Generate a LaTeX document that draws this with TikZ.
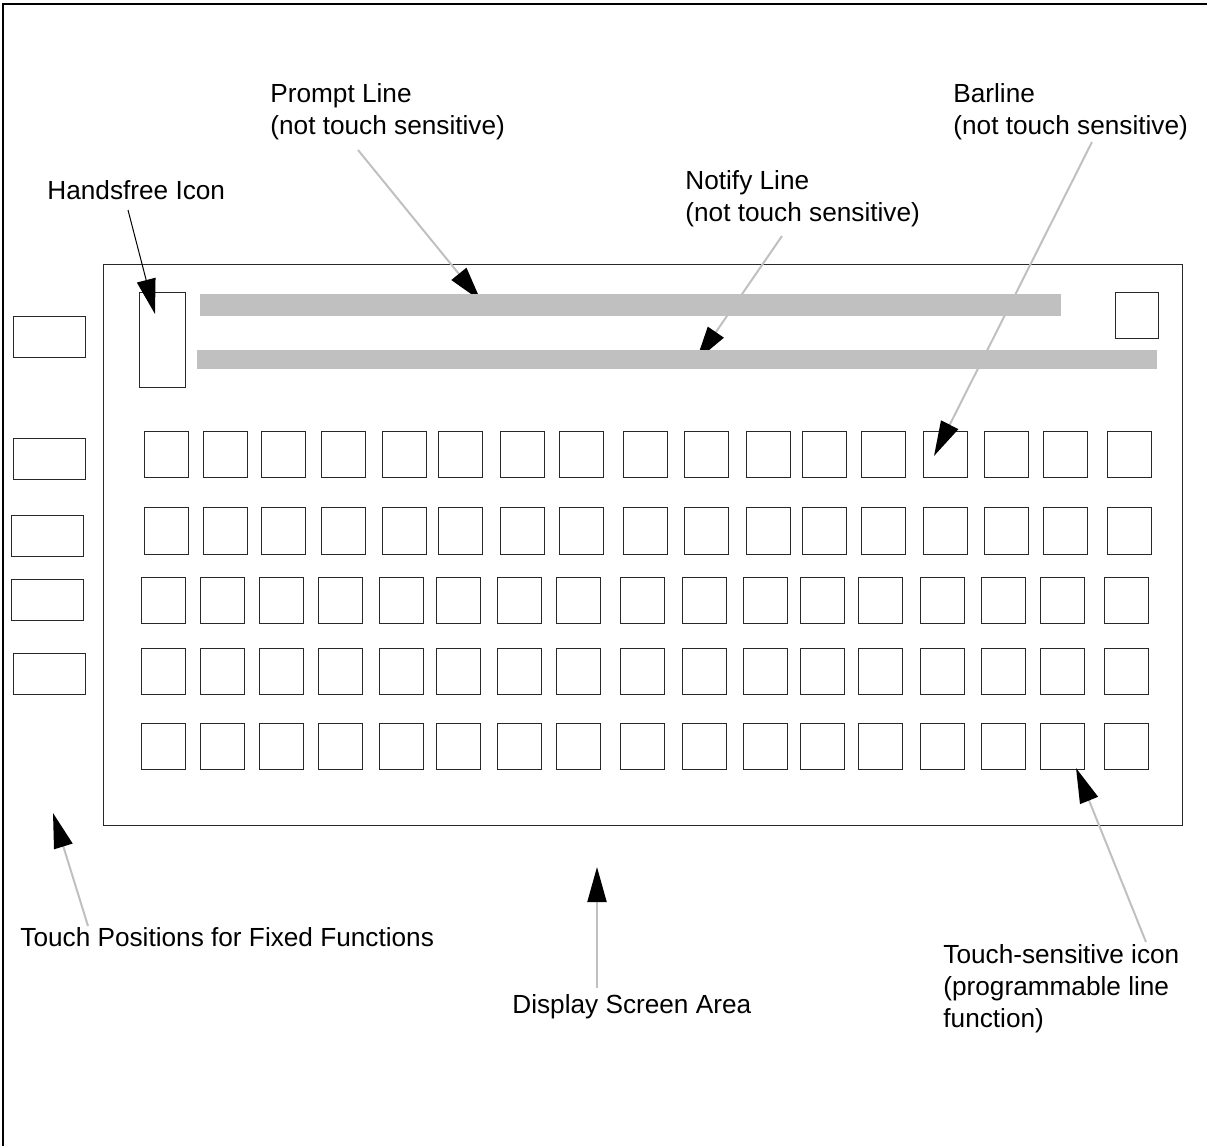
\documentclass[tikz,border=0pt]{standalone}
\usepackage{fontspec}
\setmainfont{Liberation Sans}
\usetikzlibrary{arrows.meta}
\definecolor{bargray}{RGB}{192,192,192}
\definecolor{edge}{RGB}{40,40,40}
\begin{document}
\begin{tikzpicture}[x=0.5pt,y=-0.5pt,
  box/.style={draw=edge, line width=0.6pt, inner sep=0pt, anchor=north west, minimum width=22pt, minimum height=23pt},
  sidebox/.style={box, minimum width=36pt, minimum height=20.5pt},
  bar/.style={fill=bargray, draw=none, inner sep=0pt, anchor=north west},
  lbl/.style={font=\fontsize{13.1}{16}\selectfont, inner sep=0pt, anchor=base west, align=left},
  callout/.style={draw=bargray, line width=1pt, -{Triangle[length=17.5pt,width=9.5pt,color=black]}},
  blackcallout/.style={draw=black, line width=0.5pt, -{Triangle[length=17.5pt,width=9.5pt,color=black]}}
]
\useasboundingbox (0,0) rectangle (1207,1146);
% outer frame
\draw[line width=0.6pt] (1207,4) -- (3,4) -- (3,1146);
% display screen area
\node[box, minimum width=539.5pt, minimum height=280.5pt] (display) at (103,264) {};
% handsfree icon and top-right square
\node[box, minimum width=23pt, minimum height=47.5pt] (hf) at (139,292) {};
\node[box, minimum width=21.5pt, minimum height=23pt] (tr) at (1115,292) {};
% side touch positions
\node[sidebox] (s1) at (13,316) {};
\node[sidebox] (s2) at (13,438) {};
\node[sidebox] (s3) at (11,515) {};
\node[sidebox] (s4) at (11,579) {};
\node[sidebox] (s5) at (13,653) {};
% icon grid
\foreach \x [count=\c] in {144,203,261,321,382,438,500,559,623,684,746,802,861,923,984,1043,1107} {
  \node[box] (r1c\c) at (\x,431) {};
  \node[box, minimum height=23.5pt] (r2c\c) at (\x,507) {};
}
\foreach \x [count=\c] in {141,200,259,318,379,436,497,556,620,682,743,800,858,920,981,1040,1104} {
  \node[box] (r3c\c) at (\x,577) {};
  \node[box] (r4c\c) at (\x,648) {};
  \node[box] (r5c\c) at (\x,723) {};
}
% labels (base anchor = baseline of the last line)
\node[lbl] (hfl) at (47,199) {Handsfree Icon};
\node[lbl] (prl) at (270,134) {Prompt Line\\(not touch sensitive)};
\node[lbl] (nol) at (685,221) {Notify Line\\(not touch sensitive)};
\node[lbl] (bal) at (953,134) {Barline\\(not touch sensitive)};
\node[lbl] (tpl) at (20,946) {Touch Positions for Fixed Functions};
\node[lbl] (dsl) at (512,1013) {Display Screen Area};
\node[lbl] (tsl) at (943,1027) {Touch-sensitive icon\\(programmable line\\function)};
% connector ends
\coordinate (hfs) at (128,210);   \coordinate (hft) at (155,314);
\coordinate (prs) at (358,150);   \coordinate (prt) at (481,301);
\coordinate (nos) at (782,236);   \coordinate (not) at (696,361);
\coordinate (bas) at (1092,142);  \coordinate (bat) at (934,456);
\coordinate (tss) at (1146,942);  \coordinate (tst) at (1076,768);
\coordinate (dss) at (597,988);   \coordinate (dst) at (597,867);
\coordinate (tps) at (88,926);    \coordinate (tpt) at (53,813);
% connectors
\draw[blackcallout] (hfs) -- (hft);
\draw[callout] (prs) -- (prt);
\draw[callout] (nos) -- (not);
\draw[callout] (bas) -- (bat);
\draw[callout] (tss) -- (tst);
\draw[callout] (dss) -- (dst);
\draw[callout] (tps) -- (tpt);
% prompt and notify lines (drawn over the arrow tips)
\node[bar, minimum width=430.5pt, minimum height=11pt] (prompt) at (200,294) {};
\node[bar, minimum width=480pt, minimum height=9.5pt] (notify) at (197,350) {};
\end{tikzpicture}
\end{document}
